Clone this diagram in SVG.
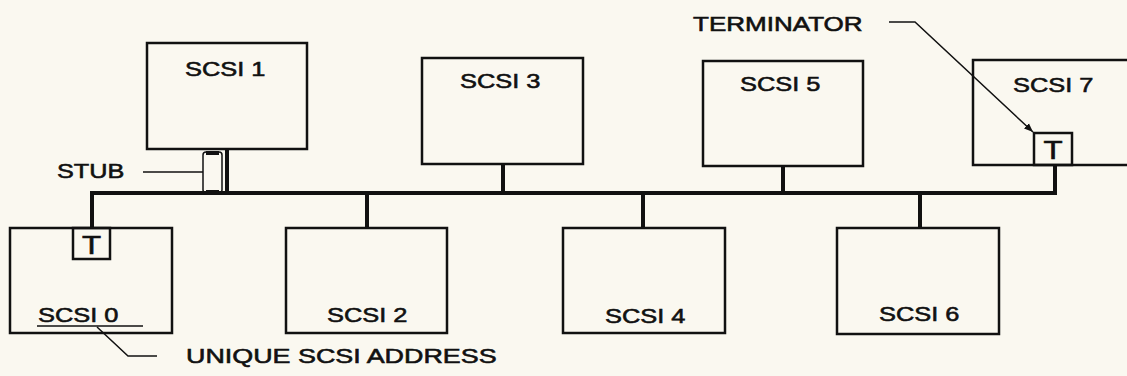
<svg xmlns="http://www.w3.org/2000/svg" width="1127" height="376" viewBox="0 0 1127 376">
<style>
.box{fill:none;stroke:#111;stroke-width:2.5}
.bus{fill:none;stroke:#111;stroke-width:4}
.thin{fill:none;stroke:#111;stroke-width:1.5}
.lbl{font-family:"Liberation Sans",Arial,sans-serif;font-size:21px;fill:#111;stroke:#111;stroke-width:0.6}
.big{font-family:"Liberation Sans",Arial,sans-serif;font-size:21px;fill:#111;stroke:#111;stroke-width:0.6}
.tee{font-family:"Liberation Sans",Arial,sans-serif;font-size:25px;fill:#111;stroke:#111;stroke-width:0.6}
</style>
<defs>
<marker id="arr" viewBox="0 0 10 10" refX="10" refY="5" markerWidth="9" markerHeight="9" orient="auto" markerUnits="userSpaceOnUse">
<path d="M0,1 L10,5 L0,9 z" fill="#111"/>
</marker>
</defs>
<rect x="0" y="0" width="1127" height="376" fill="#faf8f0"/>
<g id="connectors">
<path class="bus" d="M92,229 V193 H1055 V165"/>
<path class="bus" d="M227,149 V193"/>
<path class="bus" d="M367,193 V228"/>
<path class="bus" d="M503,164 V193"/>
<path class="bus" d="M643,193 V228"/>
<path class="bus" d="M783,166 V193"/>
<path class="bus" d="M920,193 V228"/>
</g>
<g id="scsi0">
<rect class="box" x="10" y="228" width="162" height="105"/>
<rect class="box" x="73" y="228" width="37" height="31"/>
<text class="tee" text-anchor="middle" transform="translate(91.5,254) scale(1.25,1)">T</text>
<text class="lbl" transform="translate(38,322) scale(1.21,1)">SCSI 0</text>
<line class="thin" x1="37" y1="326" x2="143" y2="326"/>
</g>
<g id="scsi1">
<rect class="box" x="147" y="43" width="160" height="106"/>
<text class="lbl" transform="translate(185,76) scale(1.21,1)">SCSI 1</text>
</g>
<g id="scsi2">
<rect class="box" x="286" y="228" width="161" height="105"/>
<text class="lbl" transform="translate(327,322) scale(1.21,1)">SCSI 2</text>
</g>
<g id="scsi3">
<rect class="box" x="422" y="58" width="161" height="106"/>
<text class="lbl" transform="translate(460,88) scale(1.21,1)">SCSI 3</text>
</g>
<g id="scsi4">
<rect class="box" x="563" y="228" width="162" height="105"/>
<text class="lbl" transform="translate(605,323) scale(1.21,1)">SCSI 4</text>
</g>
<g id="scsi5">
<rect class="box" x="703" y="61" width="160" height="105"/>
<text class="lbl" transform="translate(740,91) scale(1.21,1)">SCSI 5</text>
</g>
<g id="scsi6">
<rect class="box" x="837" y="228" width="162" height="106"/>
<text class="lbl" transform="translate(879,321) scale(1.21,1)">SCSI 6</text>
</g>
<g id="scsi7">
<rect class="box" x="973" y="60" width="165" height="105"/>
<rect class="box" x="1034" y="133" width="38" height="32"/>
<text class="tee" text-anchor="middle" transform="translate(1053,159) scale(1.25,1)">T</text>
<text class="lbl" transform="translate(1013,92) scale(1.21,1)">SCSI 7</text>
</g>
<g id="stub">
<rect class="thin" x="203" y="152" width="19" height="41" rx="3"/>
<path class="bus" d="M206,153 H219 M206,192 H219" stroke-width="3"/>
<line class="thin" x1="143" y1="172" x2="203" y2="172"/>
<text class="big" transform="translate(57,178) scale(1.2,1)">STUB</text>
</g>
<g id="terminator">
<text class="big" transform="translate(693,31) scale(1.24,1)">TERMINATOR</text>
<path class="thin" d="M889,22 H915 L1033,132" marker-end="url(#arr)"/>
</g>
<g id="address">
<path class="thin" d="M97,327 L128,356 H157"/>
<text class="big" transform="translate(186,363) scale(1.28,1)">UNIQUE SCSI ADDRESS</text>
</g>
</svg>
